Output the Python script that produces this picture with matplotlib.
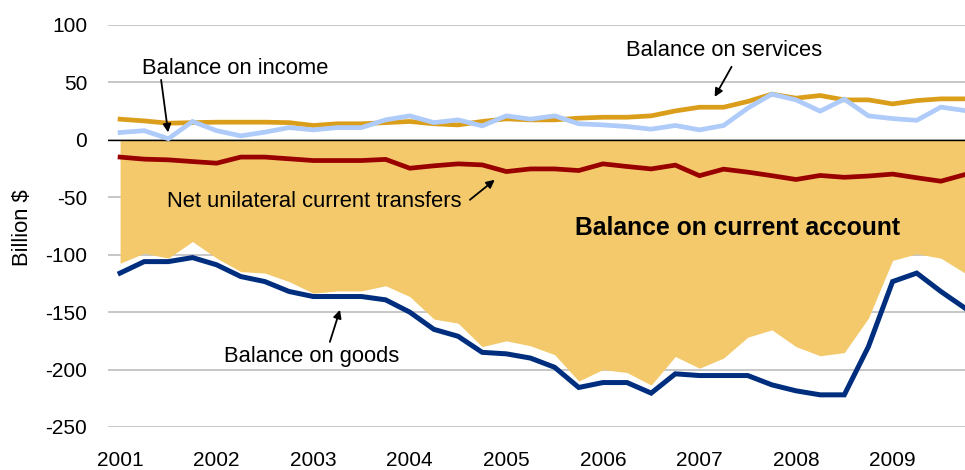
import numpy as np
import matplotlib
matplotlib.use('Agg')
import matplotlib.pyplot as plt

# quarterly data, 2001 Q1 .. 2009 Q4 (billion $)
years = ['2001', '2002', '2003', '2004', '2005', '2006', '2007', '2008', '2009']

services = [18, 16.5, 14.5, 15, 15.4, 15.4, 15.4, 15, 12.5, 14, 14, 15,
            16, 14, 13, 16, 18.3, 17.4, 17.4, 18.9, 19.7, 19.7, 20.9, 25.2,
            28.4, 28.4, 33.4, 39.8, 36.3, 38.6, 34.8, 34.8, 31.3, 34.2, 35.7, 35.7]

income = [6.4, 8, 1, 16, 8, 3.5, 6.7, 10.7, 8.7, 10.7, 10.7, 17.4,
          20.9, 15, 17.4, 12.2, 20.9, 18, 20.9, 14, 13, 11.6, 9.3, 12.5,
          8.7, 12.5, 27.6, 39.8, 34.8, 25, 35.4, 20.9, 18.5, 17, 28.5, 25.5]

transfers = [-15, -16.8, -17.4, -18.9, -20.3, -15, -15, -16.5, -18, -18, -18, -17,
             -24.7, -22.6, -20.9, -21.8, -27.6, -25.3, -25.3, -26.7, -20.9, -23.2, -25.3, -22,
             -31.2, -25.5, -28.1, -31.2, -34.5, -31, -32.6, -31.5, -29.8, -33, -36, -30.2]

goods = [-116, -106, -106, -102.5, -108.8, -119, -123.4, -132, -136.4, -136.4, -136.4, -139.3,
         -150, -165, -171, -185, -186.3, -190, -198, -215.6, -211.3, -211.3, -220.5, -203.7,
         -205.2, -205.2, -205.2, -213.3, -218.5, -222, -222, -180, -123.4, -116, -132, -146.5]

current_account = [-107.4, -98.7, -103, -88.5, -103, -114.7, -116, -123.4, -133.5, -131.5, -131.5, -127,
                   -136.4, -156, -159.6, -180, -175, -179.3, -187, -210, -200, -202.6, -213.5, -188.6,
                   -198.8, -190, -171.8, -165.4, -180, -188, -185.2, -155.2, -105, -99.2, -103, -116]

FILL = '#F3C96B'
SERVICES = '#DB9E1B'
INCOME = '#AECBFA'
TRANSFERS = '#990000'
GOODS = '#002E7E'

plt.rcParams['font.family'] = ['Liberation Sans', 'DejaVu Sans']
plt.rcParams['axes.unicode_minus'] = False

fig = plt.figure(figsize=(9.65, 4.70), dpi=100)
ax = fig.add_axes([108 / 965, 1 - 427 / 470, 1 - 108 / 965, (427 - 25) / 470])

x = np.arange(len(goods))

ax.fill_between(x, 0, current_account, color=FILL, linewidth=0, zorder=1)
ax.plot(x, services, color=SERVICES, lw=3.4, zorder=3, solid_joinstyle='miter')
ax.plot(x, income, color=INCOME, lw=3.4, zorder=4, solid_joinstyle='miter')
ax.plot(x, transfers, color=TRANSFERS, lw=3.4, zorder=4, solid_joinstyle='miter')
ax.plot(x, goods, color=GOODS, lw=3.6, zorder=4, solid_joinstyle='miter')
ax.axhline(0, color='black', lw=1.0, zorder=2)

ax.set_xlim(-0.5, 35)
ax.set_ylim(-250, 100)
ax.set_yticks(np.arange(-250, 101, 50))
ax.set_xticks(np.arange(0, len(goods), 4))
ax.set_xticklabels(years)
ax.grid(axis='y', color='#BEBEBE', lw=1.2, zorder=0)
ax.set_axisbelow(True)
for s in ax.spines.values():
    s.set_visible(False)
ax.tick_params(axis='y', length=0, pad=15, labelsize=15)
ax.tick_params(axis='x', length=0, pad=17, labelsize=15)

fig.text(23 / 965, 1 - 228 / 470, 'Billion $', rotation=90, ha='center', va='center', fontsize=15.8)

# labels and arrows
arrow = dict(arrowstyle='-|>', color='black', lw=1.3, mutation_scale=12, shrinkA=0, shrinkB=0)
FS = 15.8

ax.text(0.91, 62.5, 'Balance on income', fontsize=FS, va='center', ha='left')
ax.annotate('', xy=(1.99, 6.5), xytext=(1.70, 52.2), arrowprops=arrow)

ax.text(20.94, 77.5, 'Balance on services', fontsize=FS, va='center', ha='left')
ax.annotate('', xy=(24.63, 37.4), xytext=(25.33, 63.6), arrowprops=arrow)

ax.text(1.95, -54, 'Net unilateral current transfers', fontsize=FS, va='center', ha='left')
ax.annotate('', xy=(15.52, -34.8), xytext=(14.49, -52.2), arrowprops=arrow)

ax.text(18.83, -76.6, 'Balance on current account', fontsize=17.8, fontweight='bold',
        va='center', ha='left')

ax.text(4.30, -188.9, 'Balance on goods', fontsize=FS, va='center', ha='left')
ax.annotate('', xy=(9.11, -148), xytext=(8.69, -175.9), arrowprops=arrow)

fig.savefig('out.png', dpi=100)
